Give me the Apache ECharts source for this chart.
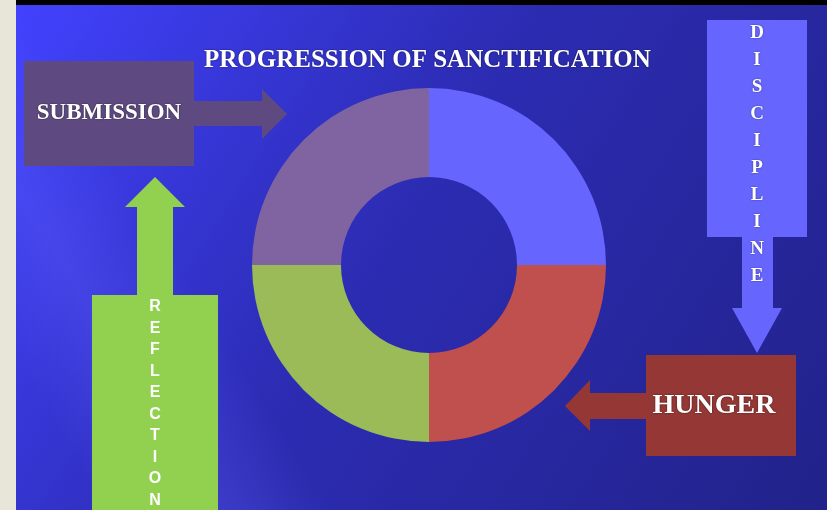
<!DOCTYPE html>
<html><head><meta charset="utf-8">
<script src="https://cdn.jsdelivr.net/npm/echarts@6/dist/echarts.min.js"></script>
<style>html,body{margin:0;padding:0;background:#e8e5d9}#c{width:827px;height:510px}</style>
</head><body><div id="c"></div>
<script>
// ---- data ----
const titleText = 'PROGRESSION OF SANCTIFICATION';
const categories = ['Discipline', 'Hunger', 'Reflection', 'Submission'];
const values = [25, 25, 25, 25];
const sliceColors = ['#6666ff', '#c0504d', '#9bbb59', '#8064a2'];
const stageSubmission = 'SUBMISSION';
const stageDiscipline = 'DISCIPLINE';
const stageHunger = 'HUNGER';
const stageReflection = 'REFLECTION';

const chart = echarts.init(document.getElementById('c'), null, {renderer: 'canvas'});
const serif = '"Liberation Serif", "Times New Roman", serif';
const sans = '"Liberation Sans", Arial, sans-serif';

const graphics = [
  // background
  {type: 'rect', z: -10, shape: {x: 0, y: 0, width: 827, height: 510}, style: {fill: '#e8e5d9'}},
  {type: 'rect', z: -9, shape: {x: 16, y: 0, width: 811, height: 510},
    style: {fill: new echarts.graphic.LinearGradient(0, 0, 1, 1, [
      {offset: 0, color: '#4242ff'}, {offset: 0.45, color: '#2c2cb4'}, {offset: 1, color: '#22228a'}])}},
  {type: 'rect', z: -8, shape: {x: 16, y: 0, width: 811, height: 510},
    style: {fill: new echarts.graphic.LinearGradient(0, 1, 1, 0, [
      {offset: 0.08, color: 'rgba(100,100,255,0)'}, {offset: 0.18, color: 'rgba(100,100,255,0.28)'},
      {offset: 0.28, color: 'rgba(100,100,255,0)'}, {offset: 1, color: 'rgba(100,100,255,0)'}])}},
  {type: 'rect', z: -7, shape: {x: 16, y: 0, width: 811, height: 5}, style: {fill: '#000000'}},

  // SUBMISSION box + arrow
  {type: 'rect', shape: {x: 24, y: 61, width: 170, height: 105}, style: {fill: '#5e4a80'}},
  {type: 'polygon', shape: {points: [[194, 101], [262, 101], [262, 89], [287, 114], [262, 139], [262, 126], [194, 126]]}, style: {fill: '#5e4a80'}},
  {type: 'text', style: {text: stageSubmission, x: 109, y: 113, textAlign: 'center', textVerticalAlign: 'middle',
    font: 'bold 23px ' + serif, fill: '#ffffff', textShadowColor: 'rgba(0,0,0,0.6)', textShadowBlur: 2}},

  // DISCIPLINE arrow
  {type: 'rect', shape: {x: 707, y: 20, width: 100, height: 217}, style: {fill: '#6666ff'}},
  {type: 'polygon', shape: {points: [[742, 236], [773, 236], [773, 308], [782, 308], [757, 353], [732, 308], [742, 308]]}, style: {fill: '#6666ff'}},
  {type: 'text', style: {text: stageDiscipline.split('').join('\n'), x: 757, y: 20, textAlign: 'center', textVerticalAlign: 'top',
    lineHeight: 27, font: 'bold 19px ' + serif, fill: '#ffffff', textShadowColor: 'rgba(0,0,0,0.5)', textShadowBlur: 2}},

  // HUNGER box + arrow
  {type: 'rect', shape: {x: 646, y: 355, width: 150, height: 101}, style: {fill: '#953735'}},
  {type: 'polygon', shape: {points: [[646, 393], [590, 393], [590, 380], [565, 406], [590, 431], [590, 419], [646, 419]]}, style: {fill: '#953735'}},
  {type: 'text', style: {text: stageHunger, x: 714, y: 406, textAlign: 'center', textVerticalAlign: 'middle',
    font: 'bold 28px ' + serif, fill: '#ffffff', textShadowColor: 'rgba(0,0,0,0.6)', textShadowBlur: 2}},

  // REFLECTION arrow
  {type: 'rect', shape: {x: 92, y: 295, width: 126, height: 215}, style: {fill: '#92d050'}},
  {type: 'polygon', shape: {points: [[137, 296], [137, 207], [125, 207], [155, 177], [185, 207], [173, 207], [173, 296]]}, style: {fill: '#92d050'}},
  {type: 'text', style: {text: stageReflection.split('').join('\n'), x: 155, y: 296, textAlign: 'center', textVerticalAlign: 'top',
    lineHeight: 21.5, font: 'bold 16px ' + sans, fill: '#ffffff'}}
];

chart.setOption({
  animation: false,
  title: {text: titleText, left: 199, top: 43,
    textStyle: {color: '#ffffff', fontFamily: serif, fontWeight: 'bold', fontSize: 25,
      textShadowColor: 'rgba(0,0,0,0.6)', textShadowBlur: 2}},
  graphic: graphics,
  series: [{
    type: 'pie', silent: true, center: [429, 265], radius: [88, 177],
    startAngle: 90, clockwise: true, label: {show: false}, labelLine: {show: false},
    emphasis: {disabled: true},
    data: categories.map((c, i) => ({name: c, value: values[i], itemStyle: {color: sliceColors[i]}}))
  }]
});
</script></body></html>
